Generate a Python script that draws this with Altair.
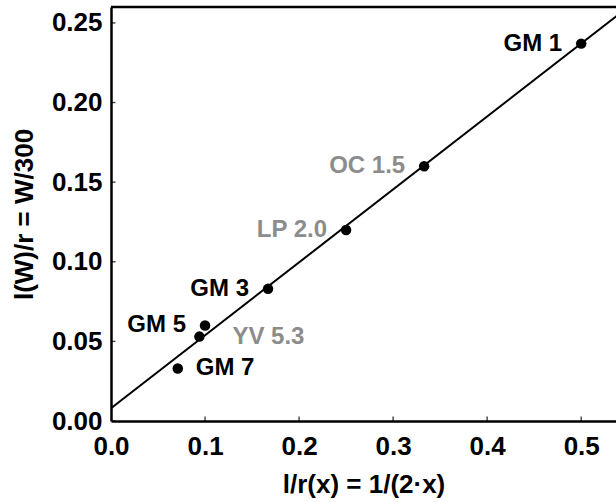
import altair as alt
import pandas as pd

# Data
names = ["GM 1", "OC 1.5", "LP 2.0", "GM 3", "GM 5", "YV 5.3", "GM 7"]
inv_r = [0.5, 0.333, 0.25, 0.167, 0.1, 0.094, 0.071]
w_ratio = [0.237, 0.160, 0.120, 0.083, 0.060, 0.053, 0.033]

fit_x = [0.0, 0.55]
fit_y = [0.008, 0.260]

x_ticks = [0.0, 0.1, 0.2, 0.3, 0.4, 0.5]
y_ticks = [0.0, 0.05, 0.10, 0.15, 0.20, 0.25]
x_max = 0.537
y_max = 0.26

pts = pd.DataFrame({"name": names, "x": inv_r, "y": w_ratio})
fit = pd.DataFrame({"x": fit_x, "y": fit_y})
xt = pd.DataFrame({"v": x_ticks})
yt = pd.DataFrame({"v": y_ticks})

FONT = "Liberation Sans"
xscale = alt.Scale(domain=[0, x_max], nice=False, zero=False)
yscale = alt.Scale(domain=[0, y_max], nice=False, zero=False)

xenc = alt.X("x:Q", scale=xscale,
             axis=alt.Axis(values=x_ticks, format=".1f", title="l/r(x) = 1/(2·x)",
                           labelPadding=12, titlePadding=12, labelFlush=False))
yenc = alt.Y("y:Q", scale=yscale,
             axis=alt.Axis(values=y_ticks, format=".2f", title="l(W)/r = W/300",
                           labelPadding=9, titlePadding=14))

line = alt.Chart(fit).mark_line(color="black", strokeWidth=2, clip=True).encode(x=xenc, y=yenc)

top_border = alt.Chart(pd.DataFrame({"v": [y_max]})).mark_rule(color="black", strokeWidth=2.5).encode(
    y=alt.Y("v:Q"))

dots = alt.Chart(pts).mark_circle(color="black", size=110, opacity=1).encode(x="x:Q", y="y:Q")

label_color = alt.condition("indexof(datum.name, 'GM') === 0", alt.value("black"), alt.value("#8c8c8c"))
LFS = 24

left_labels = alt.Chart(pts).transform_filter(
    "datum.name !== 'YV 5.3' && datum.name !== 'GM 7'"
).mark_text(align="right", baseline="middle", dx=-19, font=FONT, fontWeight="bold", fontSize=LFS).encode(
    x="x:Q", y="y:Q", text="name:N", color=label_color)

yv_label = alt.Chart(pts).transform_filter("datum.name === 'YV 5.3'").mark_text(
    align="left", baseline="middle", dx=33, font=FONT, fontWeight="bold", fontSize=LFS).encode(
    x="x:Q", y="y:Q", text="name:N", color=label_color)

gm7_label = alt.Chart(pts).transform_filter("datum.name === 'GM 7'").mark_text(
    align="left", baseline="middle", dx=18, font=FONT, fontWeight="bold", fontSize=LFS).encode(
    x="x:Q", y="y:Q", text="name:N", color=label_color)

xtick_marks = alt.Chart(xt).mark_tick(orient="vertical", size=9, thickness=1.5, color="black", clip=True).encode(
    x=alt.X("v:Q"), y=alt.datum(0))
ytick_marks = alt.Chart(yt).mark_tick(orient="horizontal", size=9, thickness=1.5, color="black", clip=True).encode(
    y=alt.Y("v:Q"), x=alt.datum(0))

chart = alt.layer(line, top_border, xtick_marks, ytick_marks, dots, left_labels, yv_label, gm7_label).properties(
    width=505, height=414,
    autosize=alt.AutoSizeParams(type="none"),
    padding={"left": 111, "top": 7, "right": 0, "bottom": 80},
).configure_view(
    stroke=None
).configure_axis(
    grid=False, domain=True, domainColor="black", domainWidth=2.5, ticks=False,
    labelFont=FONT, labelFontWeight="bold", labelFontSize=26, labelColor="black",
    titleFont=FONT, titleFontWeight="bold", titleFontSize=26, titleColor="black",
)

chart.save("out.html", embed_options={"renderer": "svg", "actions": False})
